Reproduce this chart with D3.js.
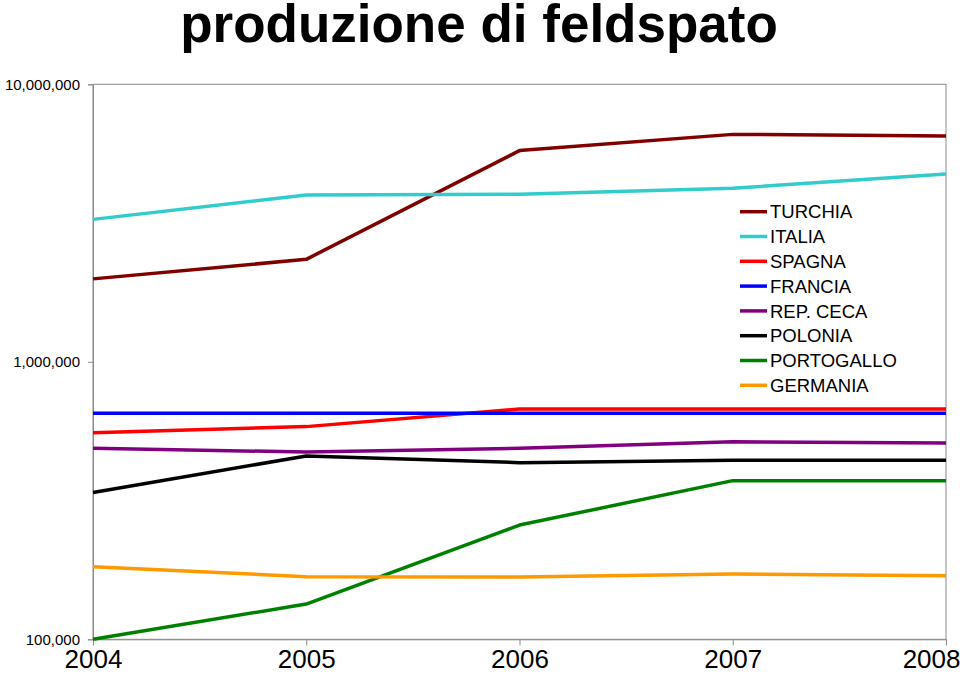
<!DOCTYPE html>
<html>
<head>
<meta charset="utf-8">
<script src="https://cdn.jsdelivr.net/npm/d3@7"></script>
<style>
  body { margin: 0; background: #fff; }
  svg { font-family: "Liberation Sans", Arial, sans-serif; }
</style>
</head>
<body>
<div id="chart"></div>
<script>
const width = 960;
const height = 677;

const margin = { top: 84.3, left: 93, bottom: 677 - 639.3, right: 960 - 946 };

// data
const years = [2004, 2005, 2006, 2007, 2008];
const countries = ["TURCHIA", "ITALIA", "SPAGNA", "FRANCIA", "REP. CECA", "POLONIA", "PORTOGALLO", "GERMANIA"];
const colors = ["#800000", "#33CCCC", "#FF0000", "#0000FF", "#800080", "#000000", "#008000", "#FF9900"];

const turchia = [1990000, 2340000, 5770000, 6600000, 6510000];
const italia = [3260000, 3990000, 4015000, 4220000, 4750000];
const spagna = [555000, 584000, 676000, 676000, 676000];
const francia = [652000, 652000, 652000, 652000, 652000];
const repCeca = [488000, 473000, 488000, 515000, 510000];
const polonia = [338000, 458000, 433000, 442000, 442000];
const portogallo = [100000, 134000, 258000, 373000, 373000];
const germania = [182600, 168100, 167700, 171900, 169500];

const seriesValues = [turchia, italia, spagna, francia, repCeca, polonia, portogallo, germania];
const yTicks = [100000, 1000000, 10000000];

const series = countries.map((name, i) => ({
    name: name,
    color: colors[i],
    values: years.map((y, j) => ({ year: y, value: seriesValues[i][j] }))
}));

const svg = d3.select("#chart").append("svg").attr("width", width).attr("height", height);

const xScale = d3.scalePoint()
    .domain(years)
    .range([margin.left, width - margin.right]);

const yScale = d3.scaleLog()
    .domain([100000, 10000000])
    .range([height - margin.bottom, margin.top]);

// title
svg.append("text")
    .attr("x", 479)
    .attr("y", 42)
    .attr("text-anchor", "middle")
    .attr("font-size", 53)
    .attr("font-weight", "bold")
    .text("produzione di feldspato");

// plot frame
svg.append("rect")
    .attr("x", margin.left)
    .attr("y", margin.top)
    .attr("width", width - margin.left - margin.right)
    .attr("height", height - margin.top - margin.bottom)
    .attr("fill", "none")
    .attr("stroke", "#8a8a8a")
    .attr("stroke-width", 1);

// y axis
const yAxis = svg.append("g")
    .attr("transform", `translate(${margin.left},0)`)
    .call(d3.axisLeft(yScale).tickValues(yTicks).tickFormat(d3.format(",")).tickSize(5).tickPadding(8));
yAxis.select(".domain").attr("stroke", "#8a8a8a");
yAxis.selectAll(".tick line").attr("stroke", "#8a8a8a");
yAxis.selectAll(".tick text").attr("font-size", 15).attr("fill", "#000")
    .attr("font-family", "'Liberation Sans', Arial, sans-serif");

// x axis
const xAxis = svg.append("g")
    .attr("transform", `translate(0,${height - margin.bottom})`)
    .call(d3.axisBottom(xScale).tickSize(6).tickPadding(4));
xAxis.select(".domain").attr("stroke", "#8a8a8a");
xAxis.selectAll(".tick line").attr("stroke", "#8a8a8a");
xAxis.selectAll(".tick text")
    .attr("font-size", 26)
    .attr("fill", "#000")
    .attr("font-family", "'Liberation Sans', Arial, sans-serif")
    .attr("dy", "0.71em");
// last label is pushed inside the window
xAxis.selectAll(".tick text").filter(d => d === 2008)
    .attr("text-anchor", "end")
    .attr("x", width - xScale(2008));

// lines
const line = d3.line()
    .x(d => xScale(d.year))
    .y(d => yScale(d.value));

svg.append("g").selectAll("path")
    .data(series)
    .join("path")
    .attr("fill", "none")
    .attr("stroke", d => d.color)
    .attr("stroke-width", 3.5)
    .attr("stroke-linejoin", "round")
    .attr("d", d => line(d.values));

// legend
const legend = svg.append("g").attr("transform", "translate(740,211.7)");
const rows = legend.selectAll("g")
    .data(series)
    .join("g")
    .attr("transform", (d, i) => `translate(0,${i * 24.8})`);
rows.append("line")
    .attr("x1", 0).attr("x2", 27)
    .attr("stroke", d => d.color)
    .attr("stroke-width", 3.5);
rows.append("text")
    .attr("x", 30)
    .attr("dy", "0.36em")
    .attr("font-size", 18.5)
    .text(d => d.name);
</script>
</body>
</html>
